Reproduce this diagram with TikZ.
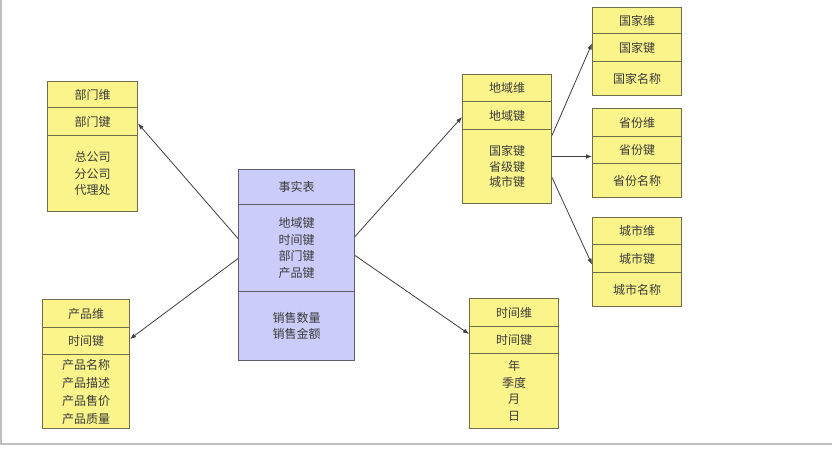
\documentclass[tikz,border=0pt]{standalone}
\usepackage{fontspec}
\setmainfont{Noto Sans CJK SC}
\usetikzlibrary{arrows.meta}
\definecolor{yfill}{HTML}{FAF48A}
\definecolor{yline}{HTML}{6E6E4A}
\definecolor{bfill}{HTML}{CCCCFA}
\definecolor{bline}{HTML}{5E5E6E}
\definecolor{txt}{HTML}{3A3A3A}
\definecolor{arr}{HTML}{404040}
\tikzset{
  cell/.style={draw, line width=1pt, anchor=north west, inner sep=0pt, align=center,
    text=txt, font=\fontsize{12}{16.5}\selectfont},
  ycell/.style={cell, fill=yfill, draw=yline},
  bcell/.style={cell, fill=bfill, draw=bline},
  link/.style={draw=arr, line width=0.8pt, -{Latex[length=6pt,width=4.5pt]}}
}
\begin{document}
\begin{tikzpicture}[x=1pt,y=-1pt]
\useasboundingbox (0,0) rectangle (832,448);
\fill[white] (0,0) rectangle (832,448);
\draw[gray!50, line width=1.5pt] (0.75,0) -- (0.75,444) -- (832,444);

% 部门维
\node[ycell, minimum width=90pt, minimum height=26pt] (b1) at (47,81) {部门维};
\node[ycell, minimum width=90pt, minimum height=28pt] (b2) at (47,107) {部门键};
\node[ycell, minimum width=90pt, minimum height=76pt] (b3) at (47,135) {总公司\\分公司\\代理处};

% 产品维
\node[ycell, minimum width=87pt, minimum height=28pt] (p1) at (42,299) {产品维};
\node[ycell, minimum width=87pt, minimum height=27pt] (p2) at (42,327) {时间键};
\node[ycell, minimum width=87pt, minimum height=74pt] (p3) at (42,354) {产品名称\\[1.5pt]产品描述\\[1.5pt]产品售价\\[1.5pt]产品质量};

% 事实表
\node[bcell, minimum width=116pt, minimum height=35pt] (f1) at (238,169) {事实表};
\node[bcell, minimum width=116pt, minimum height=87pt] (f2) at (238,204) {地域键\\时间键\\部门键\\产品键};
\node[bcell, minimum width=116pt, minimum height=69pt] (f3) at (238,291) {销售数量\\销售金额};

% 地域维
\node[ycell, minimum width=89pt, minimum height=27pt] (d1) at (462,74) {地域维};
\node[ycell, minimum width=89pt, minimum height=28pt] (d2) at (462,101) {地域键};
\node[ycell, minimum width=89pt, minimum height=74pt] (d3) at (462,129) {国家键\\[-1pt]省级键\\[-1pt]城市键};

% 国家维
\node[ycell, minimum width=89pt, minimum height=26pt] (g1) at (592,7) {国家维};
\node[ycell, minimum width=89pt, minimum height=28pt] (g2) at (592,33) {国家键};
\node[ycell, minimum width=89pt, minimum height=34pt] (g3) at (592,61) {国家名称};

% 省份维
\node[ycell, minimum width=89pt, minimum height=28pt] (s1) at (592,108) {省份维};
\node[ycell, minimum width=89pt, minimum height=27pt] (s2) at (592,136) {省份键};
\node[ycell, minimum width=89pt, minimum height=34pt] (s3) at (592,163) {省份名称};

% 城市维
\node[ycell, minimum width=89pt, minimum height=27pt] (c1) at (592,217) {城市维};
\node[ycell, minimum width=89pt, minimum height=28pt] (c2) at (592,244) {城市键};
\node[ycell, minimum width=89pt, minimum height=34pt] (c3) at (592,272) {城市名称};

% 时间维
\node[ycell, minimum width=89pt, minimum height=28pt] (t1) at (469,298) {时间维};
\node[ycell, minimum width=89pt, minimum height=27pt] (t2) at (469,326) {时间键};
\node[ycell, minimum width=89pt, minimum height=75pt] (t3) at (469,353) {年\\季度\\月\\日};

% connectors
\draw[link] ([yshift=9.5pt]f2.west) -- ([yshift=-2pt]b2.east);
\draw[link] ([yshift=-10.5pt]f2.west) -- ([yshift=2pt]p2.east);
\draw[link] ([yshift=11.5pt]f2.east) -- ([yshift=-1.5pt]d2.west);
\draw[link] ([yshift=-7.5pt]f2.east) -- ([yshift=6pt]t2.west);
\draw[link] ([yshift=31pt]d3.east) -- ([yshift=4pt]g2.west);
\draw[link] ([yshift=10pt]d3.east) -- ([yshift=-6.5pt]s2.west);
\draw[link] ([yshift=-11pt]d3.east) -- ([yshift=-6pt]c2.west);
\end{tikzpicture}
\end{document}
